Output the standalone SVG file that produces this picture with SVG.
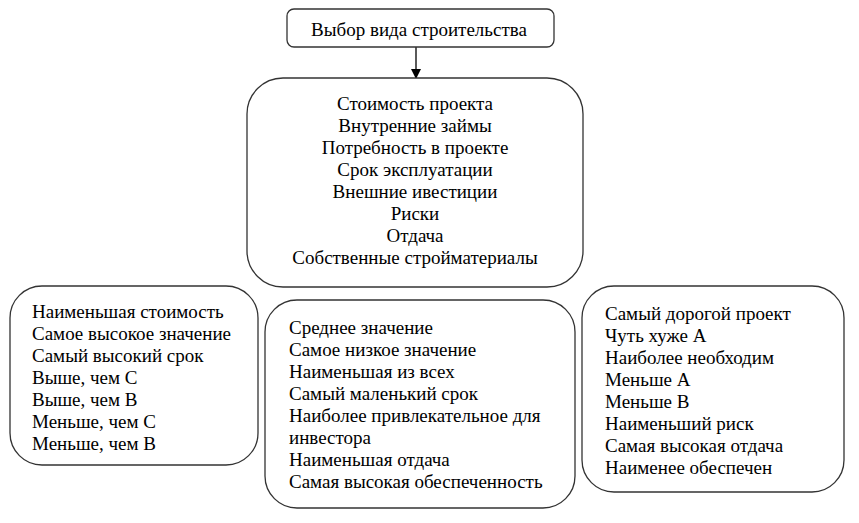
<svg xmlns="http://www.w3.org/2000/svg" width="859" height="523" viewBox="0 0 859 523">
<style>
.box{fill:#fff;stroke:#333;stroke-width:1.3}
.conn{stroke:#000;stroke-width:1.3;fill:none}
.t{font-family:'Liberation Serif','Times New Roman',serif;font-size:19px;fill:#000}
.c{text-anchor:middle}
</style>
<defs>
<marker id="ah" markerWidth="10" markerHeight="10" refX="9" refY="5" orient="auto" markerUnits="userSpaceOnUse">
<path d="M0,0 L10,5 L0,10 Z" fill="#000"/>
</marker>
</defs>
<rect width="859" height="523" fill="#fff"/>
<g id="connectors">
<line class="conn" x1="416" y1="47" x2="416" y2="78" marker-end="url(#ah)"/>
</g>
<g id="top">
<rect class="box" x="287" y="9" width="267" height="38" rx="7"/>
<text class="t c" x="419" y="36">Выбор вида строительства</text>
</g>
<g id="center">
<rect class="box" x="247" y="78" width="336" height="209" rx="36"/>
<text class="t c" x="415" y="110">Стоимость проекта</text>
<text class="t c" x="415" y="132">Внутренние займы</text>
<text class="t c" x="415" y="154">Потребность в проекте</text>
<text class="t c" x="415" y="176">Срок эксплуатации</text>
<text class="t c" x="415" y="198">Внешние ивестиции</text>
<text class="t c" x="415" y="220">Риски</text>
<text class="t c" x="415" y="242">Отдача</text>
<text class="t c" x="415" y="264">Собственные стройматериалы</text>
</g>
<g id="left">
<rect class="box" x="10" y="286" width="248" height="179" rx="32"/>
<text class="t" x="32" y="318">Наименьшая стоимость</text>
<text class="t" x="32" y="340">Самое высокое значение</text>
<text class="t" x="32" y="362">Самый высокий срок</text>
<text class="t" x="32" y="384">Выше, чем С</text>
<text class="t" x="32" y="406">Выше, чем В</text>
<text class="t" x="32" y="428">Меньше, чем С</text>
<text class="t" x="32" y="450">Меньше, чем В</text>
</g>
<g id="middle">
<rect class="box" x="265" y="300" width="310" height="208" rx="32"/>
<text class="t" x="289" y="334">Среднее значение</text>
<text class="t" x="289" y="356">Самое низкое значение</text>
<text class="t" x="289" y="378">Наименьшая из всех</text>
<text class="t" x="289" y="400">Самый маленький срок</text>
<text class="t" x="289" y="422">Наиболее привлекательное для</text>
<text class="t" x="289" y="444">инвестора</text>
<text class="t" x="289" y="466">Наименьшая отдача</text>
<text class="t" x="289" y="488">Самая высокая обеспеченность</text>
</g>
<g id="right">
<rect class="box" x="582" y="286" width="262" height="206" rx="32"/>
<text class="t" x="605" y="320">Самый дорогой проект</text>
<text class="t" x="605" y="342">Чуть хуже А</text>
<text class="t" x="605" y="364">Наиболее необходим</text>
<text class="t" x="605" y="386">Меньше А</text>
<text class="t" x="605" y="408">Меньше В</text>
<text class="t" x="605" y="430">Наименьший риск</text>
<text class="t" x="605" y="452">Самая высокая отдача</text>
<text class="t" x="605" y="474">Наименее обеспечен</text>
</g>
</svg>
